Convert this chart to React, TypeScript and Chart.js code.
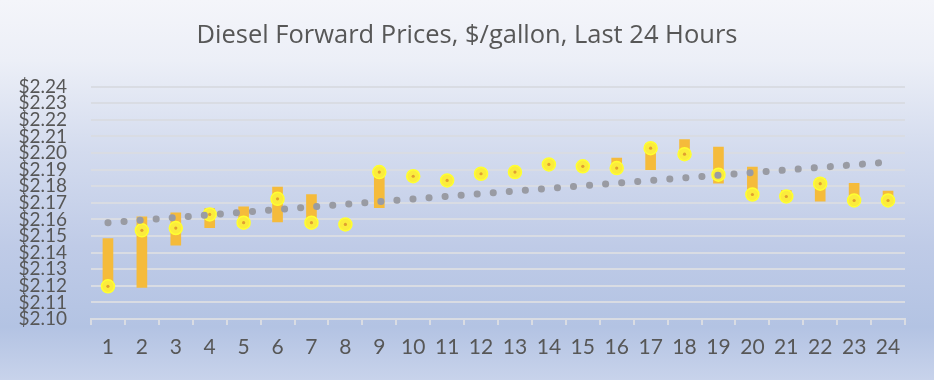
import React, { useEffect, useRef } from "react";
import { Chart, registerables } from "chart.js";

Chart.register(...registerables);

const hours: string[] = ["1","2","3","4","5","6","7","8","9","10","11","12","13","14","15","16","17","18","19","20","21","22","23","24"];

// floating bar range (low, high); null where no bar is visible
const rangeLow: (number | null)[] = [2.119, 2.119, 2.1445, 2.155, 2.1585, 2.1585, 2.158, null, 2.167, null, null, null, null, null, null, 2.1905, 2.190, 2.1965, 2.1818, 2.175, 2.1735, 2.171, 2.1714, 2.1714];
const rangeHigh: (number | null)[] = [2.1485, 2.1615, 2.164, 2.1665, 2.1675, 2.1795, 2.175, null, 2.1885, null, null, null, null, null, null, 2.197, 2.2055, 2.2081, 2.2035, 2.1915, 2.1774, 2.1845, 2.1818, 2.177];

// yellow markers
const lastPrice: number[] = [2.1197, 2.1534, 2.1548, 2.163, 2.158, 2.1724, 2.158, 2.157, 2.1885, 2.186, 2.1835, 2.1875, 2.1885, 2.1931, 2.192, 2.1909, 2.2029, 2.1993, 2.1869, 2.175, 2.1738, 2.1815, 2.1714, 2.1714];

// dotted trend line endpoints
const trendLine: (number | null)[] = [2.158, null, null, null, null, null, null, null, null, null, null, null, null, null, null, null, null, null, null, null, null, null, null, 2.1945];

const yMin = 2.10;
const yMax = 2.24;
const yStep = 0.01;

const FONT = "Lato, 'Open Sans', sans-serif";
const TITLE_FONT = "'Open Sans', Lato, sans-serif";
const TEXT = "#575757";

const bgPlugin = {
  id: "bgGradient",
  beforeDraw(chart: any) {
    const { ctx, width, height } = chart;
    const g = ctx.createLinearGradient(0, 0, 0, height);
    g.addColorStop(0, "#f4f5fa");
    g.addColorStop(0.16, "#eceff7");
    g.addColorStop(0.4, "#d3dbee");
    g.addColorStop(0.65, "#bfcbe7");
    g.addColorStop(0.86, "#b3c3e3");
    g.addColorStop(1, "#c8d3eb");
    ctx.save();
    ctx.fillStyle = g;
    ctx.fillRect(0, 0, width, height);
    ctx.restore();
  },
};

export default function App() {
  const ref = useRef<HTMLCanvasElement | null>(null);

  useEffect(() => {
    document.body.style.margin = "0";
    if (!ref.current) return;
    const barData = hours.map((_, i) =>
      rangeLow[i] == null || rangeHigh[i] == null ? null : [rangeLow[i], rangeHigh[i]]
    );
    const chart = new Chart(ref.current, {
      type: "bar",
      data: {
        labels: hours,
        datasets: [
          {
            type: "line",
            label: "Trend",
            data: trendLine,
            spanGaps: true,
            borderColor: "#999ba3",
            borderWidth: 7,
            borderCapStyle: "round",
            borderDash: [0.1, 16],
            pointRadius: 0,
            fill: false,
            order: 0,
          } as any,
          {
            type: "line",
            label: "center",
            data: lastPrice,
            showLine: false,
            pointRadius: 1.6,
            pointBackgroundColor: "#e0a030",
            pointBorderWidth: 0,
            order: 1,
          } as any,
          {
            type: "line",
            label: "Price",
            data: lastPrice,
            showLine: false,
            pointRadius: 6.5,
            pointBackgroundColor: "#fbec3c",
            pointBorderColor: "#ffff30",
            pointBorderWidth: 1.5,
            order: 2,
          } as any,
          {
            type: "bar",
            label: "Range",
            data: barData as any,
            backgroundColor: "#f5bb3b",
            borderWidth: 0,
            barThickness: 10,
            order: 3,
          } as any,
        ],
      },
      options: {
        responsive: false,
        animation: false,
        layout: { padding: 0 },
        plugins: {
          legend: { display: false },
          tooltip: { enabled: false },
          title: {
            display: true,
            text: "Diesel Forward Prices, $/gallon, Last 24 Hours",
            color: TEXT,
            font: { family: TITLE_FONT, size: 25.5, weight: "normal" },
            padding: { top: 20, bottom: 36 },
          },
        },
        scales: {
          x: {
            offset: true,
            grid: {
              display: true,
              offset: true,
              drawOnChartArea: false,
              drawTicks: true,
              tickLength: 6,
              color: "#d9dce3",
              lineWidth: 2,
            },
            border: { display: true, color: "#d9dce3", width: 2 },
            ticks: {
              color: TEXT,
              font: { family: FONT, size: 21 },
              padding: 10,
              maxRotation: 0,
              autoSkip: false,
            },
            afterFit(scale: any) {
              scale.height = 61;
            },
          },
          y: {
            min: yMin,
            max: yMax,
            grid: {
              color: "#d9dce3",
              lineWidth: 2,
              drawTicks: false,
            },
            border: { display: false },
            ticks: {
              stepSize: yStep,
              autoSkip: false,
              color: TEXT,
              font: { family: FONT, size: 19 },
              padding: 24,
              callback: (v: any) => "$" + Number(v).toFixed(2),
            },
            afterFit(scale: any) {
              scale.width = 91;
            },
          },
          rightSpace: {
            type: "linear",
            position: "right",
            display: true,
            grid: { display: false, drawTicks: false },
            border: { display: false },
            ticks: { display: false },
            afterFit(scale: any) {
              scale.width = 29;
            },
          },
        },
      } as any,
      plugins: [bgPlugin],
    });
    return () => chart.destroy();
  }, []);

  return (
    <div style={{ position: "fixed", left: 0, top: 0, width: 934, height: 380 }}>
      <canvas ref={ref} width={934} height={380} style={{ display: "block" }} />
    </div>
  );
}
